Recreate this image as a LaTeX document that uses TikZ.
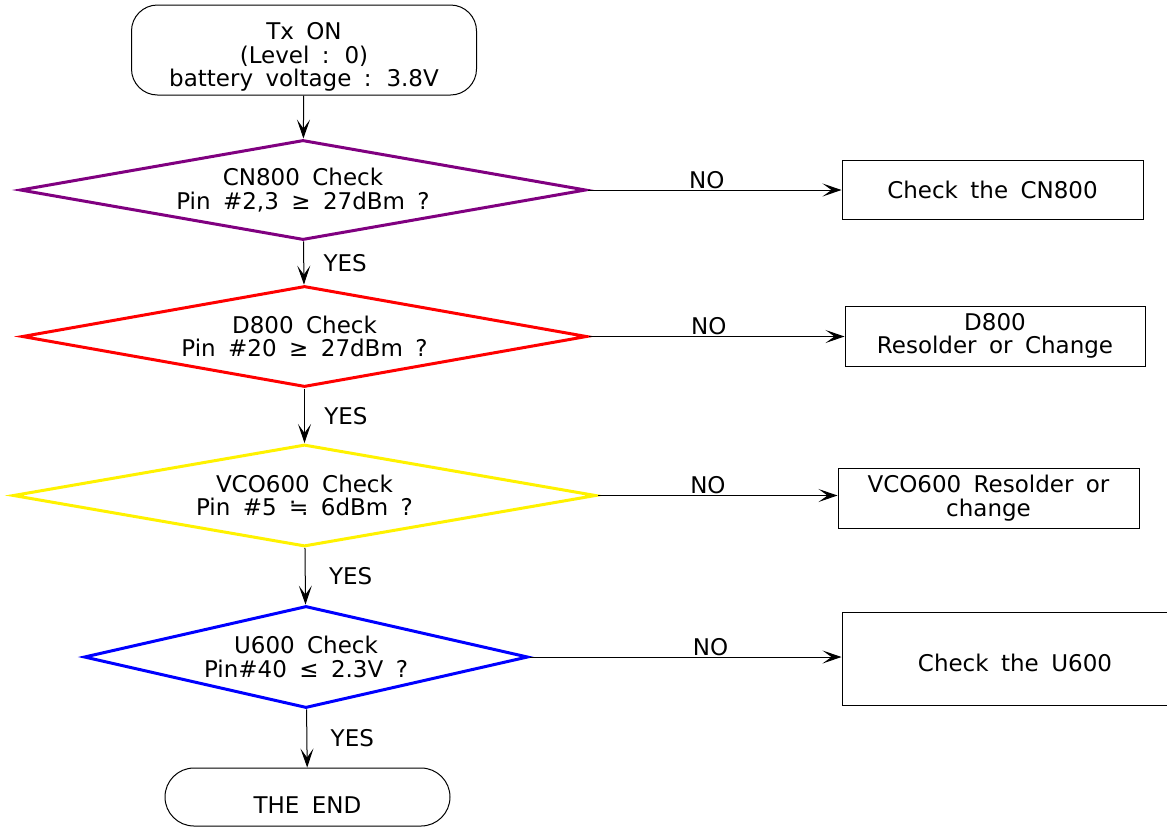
\documentclass[tikz,border=0pt]{standalone}
\usepackage{fontspec}
\setmainfont{DejaVu Sans}[WordSpace=1.7]
\usetikzlibrary{shapes.geometric,arrows.meta}

\definecolor{cnviolet}{RGB}{128,0,128}

\begin{document}
\begin{tikzpicture}[x=1pt, y=-1pt, >={Stealth[length=19pt,width=13pt,inset=9pt]},
    font=\fontsize{23}{23.5}\selectfont,
    terminal/.style={draw, line width=1pt, rounded corners=26pt, align=center},
    decision/.style={diamond, draw, line width=3pt, inner sep=0pt, align=center},
    action/.style={draw, line width=1pt, align=center},
    flow/.style={->, line width=1pt},
    nolabel/.style={above, inner sep=1pt}]

    \useasboundingbox (0,0) rectangle (1167,828);

    % debut
    \node[terminal, minimum width=345pt, minimum height=90pt] (txon) at (304,50)
        {\rule{0pt}{31pt}Tx ON\\(Level : 0)\\battery voltage : 3.8V};

    % tests
    \node[decision, draw=cnviolet, aspect=5.66, minimum width=566pt, minimum height=100pt] (cn) at (303,190)
        {CN800 Check\\Pin \#2,3 ≥ 27dBm ?};
    \node[decision, draw=red, aspect=5.6, minimum width=565pt, minimum height=101pt] (diode) at (304.5,336.5)
        {D800 Check\\Pin \#20 ≥ 27dBm ?};
    \node[decision, draw=yellow, aspect=5.72, minimum width=583pt, minimum height=102pt] (vco) at (304.5,495.5)
        {VCO600 Check\\ Pin \#5 ≒ 6dBm ?};
    \node[decision, draw=blue, aspect=4.35, minimum width=444pt, minimum height=102pt] (pll) at (306,657)
        {U600 Check\\Pin\#40 ≤ 2.3V ?};

    % fin
    \node[terminal, rounded corners=29pt, minimum width=285pt, minimum height=58pt] (fin) at (307.5,797)
        {\rule{0pt}{32pt}THE END};

    % reparations
    \node[action, minimum width=301pt, minimum height=59pt] (cnfix) at (992.5,189.5) {Check the CN800};
    \node[action, minimum width=300pt, minimum height=60pt] (diodefix) at (995,336)
        {D800\\Resolder or Change};
    \node[action, minimum width=301pt, minimum height=60pt] (vcofix) at (988.5,498)
        {VCO600 Resolder or\\change};
    \node[action, minimum width=346pt, minimum height=93pt] (pllfix) at (1015,658.5)
        {\rule{0pt}{27pt}Check the U600};

    % chemin YES
    \draw[flow] (txon) -- (cn);
    \draw[flow] (cn) -- (diode) node[midway, right=16pt] {YES};
    \draw[flow] (diode) -- (vco) node[midway, right=16pt] {YES};
    \draw[flow] (vco) -- (pll) node[midway, right=20pt] {YES};
    \draw[flow] (pll) -- (fin) node[midway, right=20pt] {YES};

    % chemin NO
    \draw[flow] (cn.east) -- (cn.east -| cnfix.west) node[nolabel, pos=.47] {NO};
    \draw[flow] (diode.east) -- (diode.east -| diodefix.west) node[nolabel, pos=.47] {NO};
    \draw[flow] (vco.east) -- (vco.east -| vcofix.west) node[nolabel, pos=.46] {NO};
    \draw[flow] (pll.east) -- (pll.east -| pllfix.west) node[nolabel, pos=.58] {NO};

\end{tikzpicture}
\end{document}
